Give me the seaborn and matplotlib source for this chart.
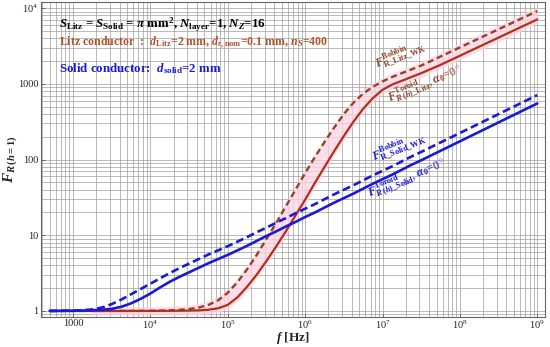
import numpy as np
import pandas as pd
import matplotlib
matplotlib.use("Agg")
import matplotlib.pyplot as plt
import seaborn as sns
from matplotlib.ticker import FixedLocator, FixedFormatter, LogLocator, NullFormatter

# ---------------- data ----------------
freq_hz = [500, 708, 1000, 1334, 1778, 2371, 3162, 4217, 5623, 7499,
           1.0e4, 1.334e4, 1.778e4, 2.371e4, 3.162e4, 4.217e4, 5.623e4, 7.499e4,
           1.0e5, 1.334e5, 1.778e5, 2.371e5, 3.162e5, 4.217e5, 5.623e5, 7.499e5,
           1.0e6, 1.334e6, 1.778e6, 2.371e6, 3.162e6, 4.217e6, 5.623e6, 7.499e6,
           1.0e7, 1.334e7, 1.778e7, 2.371e7, 3.162e7,
           5.623e7, 1.0e8, 1.778e8, 3.162e8, 5.623e8, 1.0e9]

fr_solid_toroid = [1.000, 1.002, 1.005, 1.009, 1.019, 1.035, 1.066, 1.135, 1.259, 1.445,
                   1.698, 2.042, 2.427, 2.818, 3.236, 3.715, 4.266, 4.842,
                   5.495, 6.310, 7.244, 8.414, 9.772, 11.22, 13.03, 14.96,
                   17.38, 19.95, 23.17, 26.92, 30.90, 35.48, 41.21, 47.86,
                   54.95, 63.10, 73.28, 85.11, 97.72,
                   130.3, 173.8, 231.7, 309.0, 412.1, 549.5]

fr_solid_bobbin = [1.000, 1.005, 1.012, 1.023, 1.047, 1.110, 1.230, 1.413, 1.660, 1.950,
                   2.291, 2.692, 3.162, 3.673, 4.217, 4.842, 5.559, 6.310,
                   7.161, 8.222, 9.441, 10.96, 12.59, 14.62, 16.79, 19.50,
                   22.39, 25.70, 29.85, 34.67, 39.81, 45.71, 53.09, 61.66,
                   70.79, 81.28, 94.41, 109.6, 125.9,
                   167.9, 223.9, 298.5, 398.1, 530.9, 707.9]

fr_litz_toroid = [1.0, 1.0, 1.0, 1.0, 1.0, 1.0, 1.0, 1.0, 1.0, 1.0,
                  1.0, 1.002, 1.004, 1.006, 1.010, 1.018, 1.038, 1.084,
                  1.202, 1.514, 2.089, 3.020, 4.571, 7.079, 11.22, 18.20,
                  29.51, 48.98, 79.43, 128.8, 204.2, 316.2, 467.7, 645.7,
                  831.8, 977.2, 1096, 1230, 1380,
                  1778, 2344, 3090, 4074, 5370, 7079]

fr_litz_bobbin = [1.0, 1.0, 1.0, 1.0, 1.0, 1.0, 1.001, 1.002, 1.002, 1.003,
                  1.005, 1.009, 1.019, 1.033, 1.059, 1.109, 1.202, 1.380,
                  1.738, 2.399, 3.548, 5.495, 8.913, 14.45, 23.99, 39.81,
                  66.07, 107.2, 169.8, 263.0, 398.1, 562.3, 741.3, 912.0,
                  1072, 1230, 1380, 1549, 1738,
                  2291, 3020, 3981, 5248, 6918, 9120]

x_tick_values = [1e3, 1e4, 1e5, 1e6, 1e7, 1e8, 1e9]
x_tick_labels = ["1000", r"$\mathregular{10^{4}}$", r"$\mathregular{10^{5}}$", r"$\mathregular{10^{6}}$",
                 r"$\mathregular{10^{7}}$", r"$\mathregular{10^{8}}$", r"$\mathregular{10^{9}}$"]
y_tick_values = [1, 10, 100, 1000, 1e4]
y_tick_labels = ["1", "10", "100", "1000", r"$\mathregular{10^{4}}$"]

# ---------------- style ----------------
sns.set_theme(style="white")
plt.rcParams["font.family"] = ["Liberation Serif", "DejaVu Serif"]
plt.rcParams["mathtext.fontset"] = "custom"
plt.rcParams["mathtext.rm"] = "Liberation Serif:bold"
plt.rcParams["mathtext.it"] = "Liberation Serif:italic:bold"
plt.rcParams["mathtext.bf"] = "Liberation Serif:bold"
plt.rcParams["mathtext.default"] = "it"

BLUE = "#1a1ad6"
RED = "#b0301c"
RED_D = "#8e4426"
LITZ_TXT = "#b0532a"
GRID = "#9a9a9a"

fig = plt.figure(figsize=(5.5, 3.47), dpi=100)
ax = fig.add_axes([40.5 / 550, 1 - 317 / 347, (545 - 40.5) / 550, (317 - 2) / 347])

df = pd.DataFrame({
    "f": freq_hz,
    "solid_toroid": fr_solid_toroid,
    "solid_bobbin": fr_solid_bobbin,
    "litz_toroid": fr_litz_toroid,
    "litz_bobbin": fr_litz_bobbin,
})

# pink highlight band around litz curves
ff = np.array(freq_hz)
band = ff >= 1778
ax.fill_between(ff[band], np.array(fr_litz_toroid)[band] / 1.13, np.array(fr_litz_bobbin)[band] * 1.13,
                color="#ffd3e4", alpha=0.75, lw=0, zorder=1)

sns.lineplot(data=df, x="f", y="litz_bobbin", ax=ax, color=RED_D, lw=1.7,
             linestyle=(0, (2.6, 1.6)), zorder=3)
sns.lineplot(data=df, x="f", y="litz_toroid", ax=ax, color=RED, lw=1.6, zorder=3)
sns.lineplot(data=df, x="f", y="solid_bobbin", ax=ax, color=BLUE, lw=1.9,
             linestyle=(0, (3.0, 1.5)), zorder=4)
sns.lineplot(data=df, x="f", y="solid_toroid", ax=ax, color=BLUE, lw=1.9, zorder=4)

ax.set_xscale("log")
ax.set_yscale("log")
ax.set_xlim(10 ** 2.58, 10 ** 9.1)
ax.set_ylim(10 ** -0.08, 10 ** 4.08)

ax.xaxis.set_major_locator(FixedLocator(x_tick_values))
ax.xaxis.set_major_formatter(FixedFormatter(x_tick_labels))
ax.yaxis.set_major_locator(FixedLocator(y_tick_values))
ax.yaxis.set_major_formatter(FixedFormatter(y_tick_labels))
ax.xaxis.set_minor_locator(LogLocator(base=10, subs=np.arange(2, 10), numticks=20))
ax.yaxis.set_minor_locator(LogLocator(base=10, subs=np.arange(2, 10), numticks=20))
ax.xaxis.set_minor_formatter(NullFormatter())
ax.yaxis.set_minor_formatter(NullFormatter())

ax.tick_params(which="major", direction="in", length=3, width=0.6, color="#555555",
               pad=1.5, labelsize=7.5, labelcolor="#222222")
ax.tick_params(which="minor", direction="in", length=2, width=0.5, color="#555555")
ax.tick_params(axis="x", bottom=True, top=False)
ax.tick_params(axis="y", left=True, right=False)

ax.grid(True, which="both", color=GRID, lw=0.6, alpha=0.8)
ax.set_axisbelow(True)
for s in ax.spines.values():
    s.set_color("#666666")
    s.set_linewidth(0.8)

ax.set_xlabel(r"$f$ [Hz]", fontsize=9.5, fontweight="bold", labelpad=-1)
ax.set_ylabel(r"$F_{R\,(h=1)}$", fontsize=11)
ax.yaxis.set_label_coords(-0.042, 0.5)

# header texts
ax.text(0.037, 0.927, r"$S_{\rm Litz}$ = $S_{\rm Solid}$ = $\pi$ mm$^2$, $N_{\rm layer}$=1, $N_Z$=16",
        transform=ax.transAxes, fontsize=9.3, fontweight="bold", color="black", va="center")
ax.text(0.037, 0.872, r"Litz conductor  :  $d_{\rm Litz}$=2 mm, $d_{r,\rm nom}$=0.1 mm, $n_S$=400",
        transform=ax.transAxes, fontsize=8.6, fontweight="bold", color=LITZ_TXT, va="center")
ax.text(0.037, 0.79, r"Solid conductor:  $d_{\rm solid}$=2 mm",
        transform=ax.transAxes, fontsize=9.3, fontweight="bold", color=BLUE, va="center")

# curve labels
ax.text(10 ** 6.95, 10 ** 3.14, r"$F^{\rm Bobbin}_{\rm R\_Litz\_WK}$", fontsize=8.5, color=RED_D,
        rotation=22, ha="left", va="bottom", rotation_mode="anchor")
ax.text(10 ** 7.12, 10 ** 2.68, r"$F^{\rm Toroid}_{R\,(h)\rm\_Litz}$, $\alpha_0$=0$^\circ$", fontsize=8.5,
        color=RED_D, rotation=22, ha="left", va="bottom", rotation_mode="anchor")
ax.text(10 ** 6.92, 10 ** 1.92, r"$F^{\rm Bobbin}_{\rm R\_Solid\_WK}$", fontsize=8.5, color=BLUE,
        rotation=22, ha="left", va="bottom", rotation_mode="anchor")
ax.text(10 ** 6.86, 10 ** 1.42, r"$F^{\rm Toroid}_{R\,(h)\rm\_Solid}$, $\alpha_0$=0$^\circ$", fontsize=8.5,
        color=BLUE, rotation=22, ha="left", va="bottom", rotation_mode="anchor")

fig.savefig("out.png", dpi=100)
